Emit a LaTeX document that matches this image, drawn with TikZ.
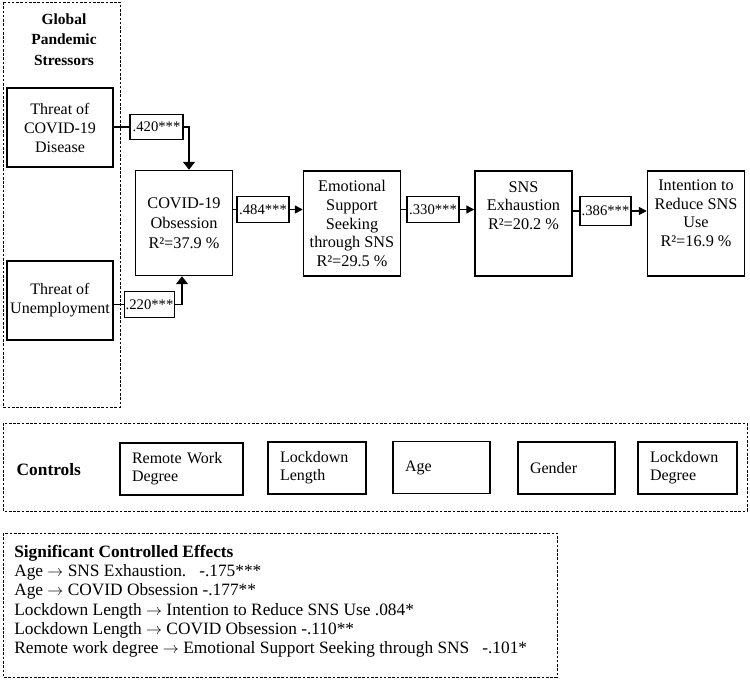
\documentclass[tikz,border=0pt]{standalone}
\usepackage{fontspec}
\setmainfont{Liberation Serif}
\usetikzlibrary{arrows.meta,positioning}

\tikzset{
    mainbox/.style={draw, line width=1.1pt, minimum width=72.75pt, minimum height=78.75pt, inner sep=0pt, align=center, font=\fontsize{12.2}{14}\selectfont},
    stressbox/.style={draw, line width=1.1pt, minimum width=79.5pt, minimum height=59.25pt, inner sep=0pt, align=center, font=\fontsize{12}{14.25}\selectfont},
    coefbox/.style={draw, line width=0.9pt, minimum width=#1, minimum height=19pt, inner xsep=1pt, inner ysep=0pt, font=\fontsize{11}{13}\selectfont},
    ctrlbox/.style={draw, line width=1.1pt, minimum height=39pt, text width=#1, inner xsep=9pt, align=left, font=\fontsize{12}{13.5}\selectfont},
    dashbox/.style={draw, line width=0.6pt, dash pattern=on 2pt off 1.2pt},
    link/.style={line width=1.1pt},
    arr/.style={link, -{Triangle[width=6pt,length=6pt]}},
    bigarr/.style={link, -{Triangle[width=9pt,length=6pt]}}
}

\begin{document}
\begin{tikzpicture}[x=0.75pt, y=-0.75pt]
    \useasboundingbox (0,0) rectangle (750,681);

    % stressors
    \draw[dashbox] (3,2) rectangle (120,407);
    \node[align=center, font=\bfseries\fontsize{11.6}{15.4}\selectfont] (gtitle) at (64,39.5) {Global\\Pandemic\\Stressors};
    \node[stressbox] (thrc) at (60,127.5) {Threat of\\COVID-19\\Disease};
    \node[stressbox] (thru) at (60,300.5) {Threat of\\Unemployment};

    % main path
    \node[mainbox, font=\fontsize{12.2}{15}\selectfont] (obs) at (184,223) {COVID-19\\Obsession\\R²=37.9 \%};
    \node[mainbox] (emo) at (352,223.5) {Emotional\\Support\\Seeking\\through SNS\\R²=29.5 \%};
    \node[mainbox, text height=43.75pt, text depth=35pt] (exh) at (523.5,223.5) {SNS\\Exhaustion\\R²=20.2 \%};
    \node[mainbox, text height=56.6pt, text depth=22.15pt] (red) at (696,223.5) {Intention to\\Reduce SNS\\Use\\R²=16.9 \%};

    \node[coefbox=39.75pt] (c420) at (156.5,127) {.420***};
    \node[coefbox=36.75pt] (c220) at (149.5,304.5) {.220***};
    \node[coefbox=39pt] (c484) at (263,209.5) {.484***};
    \node[coefbox=39pt] (c330) at (433,209.5) {.330***};
    \node[coefbox=38.25pt, minimum height=22pt] (c386) at (605.5,211) {.386***};

    \draw[link] (thrc.east |- c420.west) -- (c420.west);
    \draw[bigarr] (c420.east) -| ([xshift=3.75pt]obs.north);
    \draw[link] (thru.east |- c220.west) -- (c220.west);
    \draw[bigarr] (c220.east) -| ([xshift=-1.5pt]obs.south);
    \draw[link] (obs.east |- c484.west) -- (c484.west);
    \draw[arr] (c484.east) -- (emo.west |- c484.east);
    \draw[link] (emo.east |- c330.west) -- (c330.west);
    \draw[arr] (c330.east) -- (exh.west |- c330.east);
    \draw[link] (exh.east |- c386.west) -- (c386.west);
    \draw[arr] (c386.east) -- (red.west |- c386.east);

    % controls
    \draw[dashbox] (3,423) rectangle (747,511);
    \node[anchor=west, font=\bfseries\fontsize{13}{15}\selectfont] (ctrl) at (12,470) {Controls};
    \node[ctrlbox=74.25pt] (remote) at (181.5,469) {Remote Work\\Degree};
    \node[ctrlbox=55.5pt] (lockl) at (317,468) {Lockdown\\Length};
    \node[ctrlbox=54.75pt] (age) at (441.5,467.5) {Age};
    \node[ctrlbox=54.75pt] (gender) at (566.5,468) {Gender};
    \node[ctrlbox=56.25pt] (lockd) at (687.5,468) {Lockdown\\Degree};

    % effects
    \draw[dashbox] (3,533) rectangle (557,677);
    \node[anchor=north west, align=left, inner sep=0pt, font=\fontsize{13}{14.4}\selectfont] (effects) at (14,545) {\textbf{Significant Controlled Effects}\\
        Age $\rightarrow$ SNS Exhaustion.\ \ \ -.175***\\
        Age $\rightarrow$ COVID Obsession -.177**\\
        Lockdown Length $\rightarrow$ Intention to Reduce SNS Use .084*\\
        Lockdown Length $\rightarrow$ COVID Obsession -.110**\\
        Remote work degree $\rightarrow$ Emotional Support Seeking through SNS\ \ \ -.101*};
\end{tikzpicture}
\end{document}
